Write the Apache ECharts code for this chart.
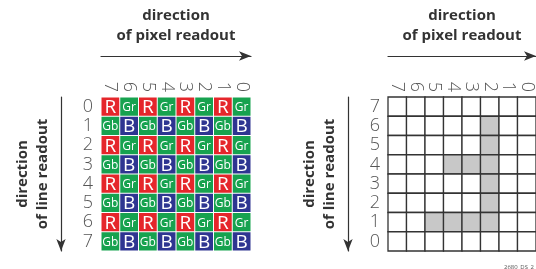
<!DOCTYPE html>
<html>
<head>
<meta charset="utf-8">
<script src="https://cdn.jsdelivr.net/npm/echarts@6/dist/echarts.min.js"></script>
<style>
  html, body { margin: 0; padding: 0; background: #fff; }
  #main { width: 536px; height: 269px; }
</style>
</head>
<body>
<div id="main"></div>
<script>
// column labels, left to right
var columns = ['7', '6', '5', '4', '3', '2', '1', '0'];
var lineRows = ['0', '1', '2', '3', '4', '5', '6', '7'];

// bayer filter, line 0 at the top
var bayer = [
  ['R', 'Gr', 'R', 'Gr', 'R', 'Gr', 'R', 'Gr'],
  ['Gb', 'B', 'Gb', 'B', 'Gb', 'B', 'Gb', 'B'],
  ['R', 'Gr', 'R', 'Gr', 'R', 'Gr', 'R', 'Gr'],
  ['Gb', 'B', 'Gb', 'B', 'Gb', 'B', 'Gb', 'B'],
  ['R', 'Gr', 'R', 'Gr', 'R', 'Gr', 'R', 'Gr'],
  ['Gb', 'B', 'Gb', 'B', 'Gb', 'B', 'Gb', 'B'],
  ['R', 'Gr', 'R', 'Gr', 'R', 'Gr', 'R', 'Gr'],
  ['Gb', 'B', 'Gb', 'B', 'Gb', 'B', 'Gb', 'B']
];

// shaded pixels, line 7 at the top down to line 0
var pixelMask = [
  [0, 0, 0, 0, 0, 0, 0, 0],
  [0, 0, 0, 0, 0, 1, 0, 0],
  [0, 0, 0, 0, 0, 1, 0, 0],
  [0, 0, 0, 1, 1, 1, 0, 0],
  [0, 0, 0, 0, 0, 1, 0, 0],
  [0, 0, 0, 0, 0, 1, 0, 0],
  [0, 0, 1, 1, 1, 1, 0, 0],
  [0, 0, 0, 0, 0, 0, 0, 0]
];

var bayerColors = { R: '#e5262b', Gr: '#17a24f', Gb: '#17a24f', B: '#2e3591' };

var bayerData = [], bayerCodes = [];
bayer.forEach(function (row, r) {
  row.forEach(function (code, c) {
    bayerData.push([c, r]);
    bayerCodes.push(code);
  });
});

var pixelData = [];
pixelMask.forEach(function (row, r) {
  row.forEach(function (v, c) {
    pixelData.push([c, lineRows.length - 1 - r, v]);
  });
});

var labelFont = 'Open Sans';
var digitStyle = { color: '#555', fontSize: 18, fontWeight: 300, fontFamily: labelFont };
var titleStyle = { color: '#333', fontSize: 15, fontWeight: 'bold', fontFamily: labelFont, lineHeight: 20, align: 'center' };
var arrowLine = { show: true, symbol: ['none', 'arrow'], symbolSize: [7, 12], lineStyle: { color: '#333', width: 1.2 } };

function colAxis(grid) {
  return {
    gridIndex: grid, type: 'category', data: columns, position: 'top',
    axisLine: { show: false }, axisTick: { show: false }, splitLine: { show: false },
    axisLabel: Object.assign({ rotate: 90, margin: 5, interval: 0 }, digitStyle)
  };
}
function arrowXAxis(grid) {
  return {
    gridIndex: grid, type: 'category', data: columns, position: 'top', offset: 41,
    axisLine: arrowLine, axisTick: { show: false }, axisLabel: { show: false },
    name: 'direction\nof pixel readout', nameLocation: 'middle', nameGap: 10,
    nameTextStyle: titleStyle
  };
}
function rowAxis(grid, inverse) {
  return {
    gridIndex: grid, type: 'category', data: lineRows, inverse: inverse,
    axisLine: { show: false }, axisTick: { show: false }, splitLine: { show: false },
    axisLabel: Object.assign({ margin: 8, interval: 0 }, digitStyle)
  };
}
function arrowYAxis(grid, inverse) {
  // the arrow always sits at the bottom end, pointing down
  return {
    gridIndex: grid, type: 'category', data: lineRows, inverse: inverse, position: 'left', offset: 40,
    axisLine: Object.assign({}, arrowLine, { symbol: ['arrow', 'none'] }),
    axisTick: { show: false }, axisLabel: { show: false },
    name: 'direction\nof line readout', nameLocation: 'middle', nameRotate: 90, nameGap: 8,
    nameTextStyle: titleStyle
  };
}

var myChart = echarts.init(document.getElementById('main'));
var option = {
  animation: false,
  title: {
    text: '2680_DS_2_1', left: 499, top: 259,
    textStyle: { fontSize: 6, fontWeight: 'normal', color: '#555', fontFamily: labelFont }
  },
  grid: [
    { left: 101, top: 97, width: 150, height: 154 },
    { left: 388, top: 97, width: 150, height: 154 }
  ],
  xAxis: [colAxis(0), arrowXAxis(0), colAxis(1), arrowXAxis(1)],
  yAxis: [rowAxis(0, true), arrowYAxis(0, true), rowAxis(1, false), arrowYAxis(1, false)],
  series: [
    {
      type: 'custom', xAxisIndex: 0, yAxisIndex: 0, data: bayerData,
      renderItem: function (params, api) {
        var p = api.coord([api.value(0), api.value(1)]);
        var s = api.size([1, 1]);
        var code = bayerCodes[params.dataIndex];
        var big = code.length === 1;
        return {
          type: 'group',
          children: [
            { type: 'rect', shape: { x: p[0] - s[0] / 2 + 0.5, y: p[1] - s[1] / 2 + 0.5, width: s[0] - 1, height: s[1] - 1 },
              style: { fill: bayerColors[code] } },
            { type: 'text', x: p[0], y: p[1] + 1,
              style: { text: code, fill: '#fff', fontSize: big ? 19 : 12, fontFamily: labelFont, align: 'center', verticalAlign: 'middle' } }
          ]
        };
      }
    },
    {
      type: 'custom', xAxisIndex: 2, yAxisIndex: 2, data: pixelData,
      renderItem: function (params, api) {
        var p = api.coord([api.value(0), api.value(1)]);
        var s = api.size([1, 1]);
        return {
          type: 'rect',
          shape: { x: p[0] - s[0] / 2, y: p[1] - s[1] / 2, width: s[0], height: s[1] },
          style: { fill: api.value(2) ? '#c8c8c8' : '#fff', stroke: '#333', lineWidth: 1.3 }
        };
      }
    }
  ]
};
myChart.setOption(option);
</script>
</body>
</html>
